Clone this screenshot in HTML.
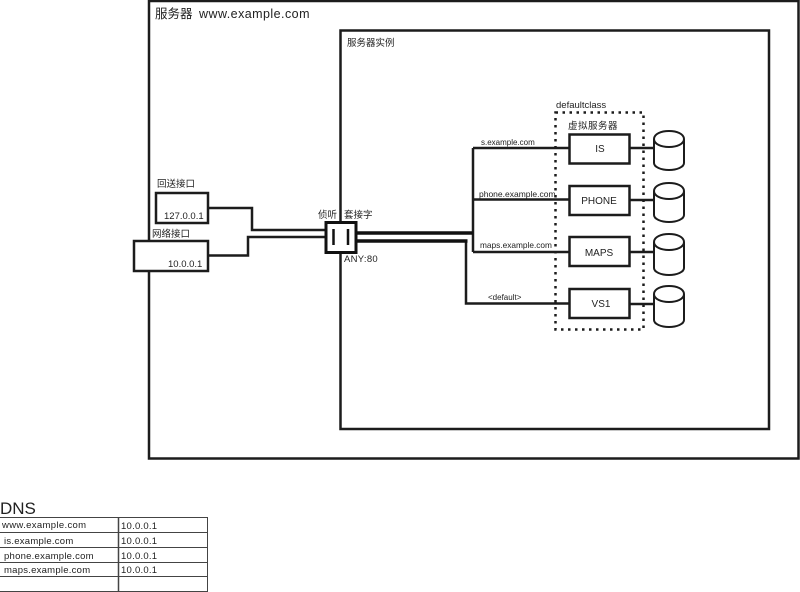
<!DOCTYPE html>
<html><head><meta charset="utf-8"><style>
html,body{margin:0;padding:0;background:#fff}
svg{display:block}
text{font-family:"Liberation Sans","Noto Sans CJK SC",sans-serif;fill:#222}
</style></head><body>
<svg width="800" height="592" viewBox="0 0 800 592" xmlns="http://www.w3.org/2000/svg">
<g fill="none" stroke="#1c1c1c" stroke-width="2.500">
<rect x="149" y="1" width="649.500" height="457.500"/>
<rect x="340.500" y="30.500" width="428.500" height="398.500"/>
</g>
<rect x="156" y="193" width="52" height="30" fill="#fff" stroke="#1c1c1c" stroke-width="2.500"/>
<rect x="134" y="241" width="74" height="30" fill="#fff" stroke="#1c1c1c" stroke-width="2.500"/>
<g fill="none" stroke="#1c1c1c" stroke-width="2.500">
<path d="M208 208H252V230H326"/>
<path d="M208 255.500H248V237H326"/>
<path d="M473 148V252"/>
<path d="M473 148H569M473 199.500H569M473 252H569"/>
<path d="M466 241V303.500H569"/>
<path d="M629 148H654M629 200H654M629 252H654M629 304H654"/>
</g>
<g fill="none" stroke="#111" stroke-width="3.500">
<path d="M356 233H473"/>
<path d="M356 241H467.500"/>
</g>
<rect x="326" y="222.500" width="30" height="30" fill="#fff" stroke="#111" stroke-width="3"/>
<path d="M333.500 229V245M348 229V245" stroke="#111" stroke-width="2.500"/>
<rect x="555.500" y="112.500" width="88" height="217" fill="none" stroke="#1c1c1c" stroke-width="2.500" stroke-dasharray="2.500 4.500"/>
<g fill="#fff" stroke="#1c1c1c" stroke-width="2.500">
<rect x="569.500" y="134.500" width="60" height="29"/>
<rect x="569.500" y="186" width="60" height="29"/>
<rect x="569.500" y="237" width="60" height="29"/>
<rect x="569.500" y="289" width="60" height="29"/>
</g>
<g fill="#fff" stroke="#1c1c1c" stroke-width="2">
<path d="M654 139V163C654 167 661 170 669 170S684 167 684 163V139C684 134 677 131 669 131S654 134 654 139C654 144 661 147 669 147S684 144 684 139"/>
<path d="M654 191V215C654 219 661 222 669 222S684 219 684 215V191C684 186 677 183 669 183S654 186 654 191C654 196 661 199 669 199S684 196 684 191"/>
<path d="M654 242V268C654 272 661 275 669 275S684 272 684 268V242C684 237 677 234 669 234S654 237 654 242C654 247 661 250 669 250S684 247 684 242"/>
<path d="M654 294V320C654 324 661 327 669 327S684 324 684 320V294C684 289 677 286 669 286S654 289 654 294C654 299 661 302 669 302S684 299 684 294"/>
</g>
<text x="155" y="18" font-size="12.500">服务器</text>
<text x="199" y="18" font-size="12.500" letter-spacing="0.450" fill="#333">www.example.com</text>
<text x="347" y="46" font-size="9.500">服务器实例</text>
<text x="157" y="187" font-size="9.500">回送接口</text>
<text x="152" y="237" font-size="9.500">网络接口</text>
<text x="164" y="219" font-size="9.500">127.0.0.1</text>
<text x="168" y="267" font-size="9.500">10.0.0.1</text>
<text x="318" y="218" font-size="9.500">侦听</text>
<text x="344" y="218" font-size="9.500">套接字</text>
<text x="344" y="262" font-size="9.500" letter-spacing="0.300">ANY:80</text>
<text x="556" y="108" font-size="9.500">defaultclass</text>
<text x="568" y="129" font-size="9.500" letter-spacing="0.500">虚拟服务器</text>
<text x="481" y="145" font-size="8">s.example.com</text>
<text x="479" y="197" font-size="8.500">phone.example.com</text>
<text x="480" y="248" font-size="8.300">maps.example.com</text>
<text x="488" y="300" font-size="8">&lt;default&gt;</text>
<g font-size="10" text-anchor="middle">
<text x="600" y="152">IS</text>
<text x="599" y="204">PHONE</text>
<text x="599" y="256">MAPS</text>
<text x="601" y="307">VS1</text>
</g>
<text x="0" y="514" font-size="17" fill="#444">DNS</text>
<g fill="none" stroke="#444" stroke-width="1">
<path d="M0 517.500H207.500V591.500H0M0 532.500H207M0 547.500H207M0 562.500H207M0 576.500H207"/>
<path d="M118.500 517V592" stroke-width="1.500"/>
</g>
<g font-size="9.500">
<text x="2" y="528" letter-spacing="0.350">www.example.com</text><text x="121" y="529" letter-spacing="0.250">10.0.0.1</text>
<text x="4" y="544" letter-spacing="0.250">is.example.com</text><text x="121" y="544" letter-spacing="0.250">10.0.0.1</text>
<text x="4" y="559" letter-spacing="0.250">phone.example.com</text><text x="121" y="559" letter-spacing="0.250">10.0.0.1</text>
<text x="4" y="573" letter-spacing="0.250">maps.example.com</text><text x="121" y="573" letter-spacing="0.250">10.0.0.1</text>
</g>
</svg>
</body></html>
